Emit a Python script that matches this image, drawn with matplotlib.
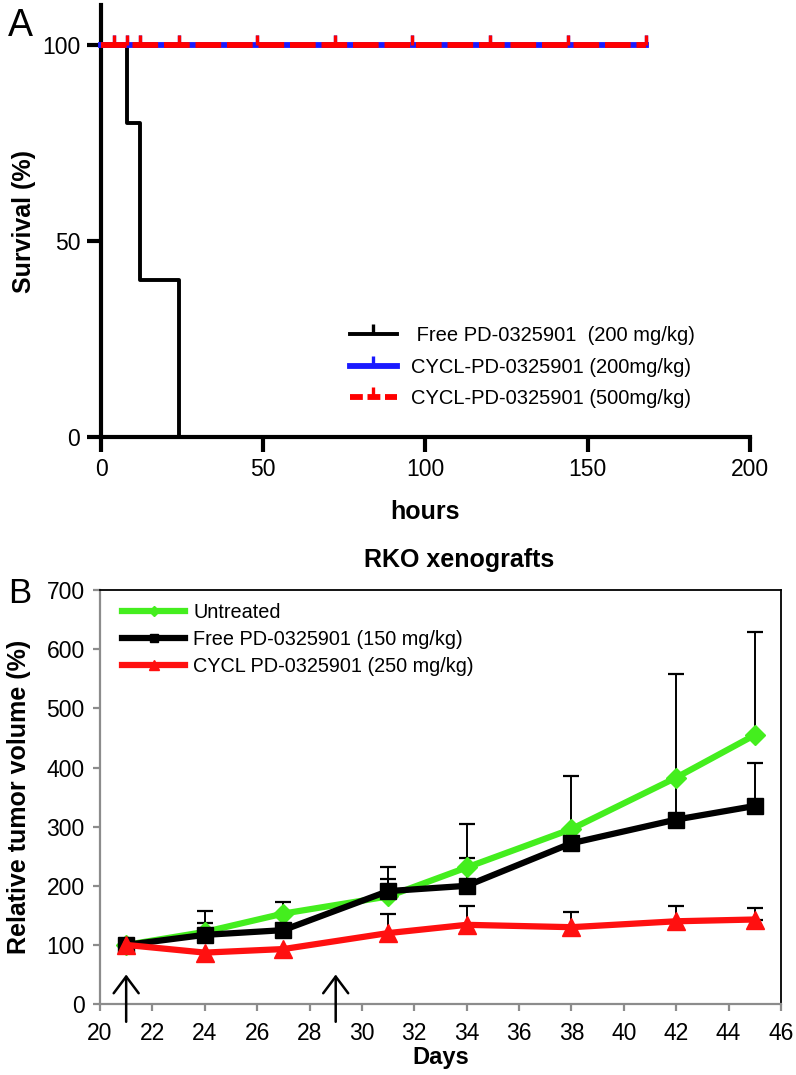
import numpy as np
import matplotlib
matplotlib.use('Agg')
import matplotlib.pyplot as plt
from matplotlib.path import Path
from matplotlib.lines import Line2D

plt.rcParams['font.family'] = ['Liberation Sans', 'DejaVu Sans']

# panel A: survival (%) vs hours
free_t = [0, 8, 12, 24]
free_s = [100, 80, 40, 0]
cycl_t = [0, 168]
cycl_s = [100, 100]
censor_t = [4, 8, 12, 24, 48, 72, 96, 120, 144, 168]
surv_labels = [' Free PD-0325901  (200 mg/kg)',
               'CYCL-PD-0325901 (200mg/kg)',
               'CYCL-PD-0325901 (500mg/kg)']

# panel B: RKO xenografts, relative tumor volume (%)
nan = np.nan
days = [21, 24, 27, 31, 34, 38, 42, 45]
untreated = [100, 122, 153, 182, 231, 296, 383, 455]
untreated_top = [nan, 158, 172, 231, 304, 385, 558, 630]
free = [100, 117, 125, 191, 200, 272, 312, 335]
free_top = [nan, 137, nan, 211, 247, nan, 380, 407]
cycl = [100, 87, 93, 120, 134, 130, 140, 143]
cycl_top = [nan, nan, nan, 152, 166, 156, 166, 162]
treat_days = [21, 29]
tumor_labels = ['Untreated', 'Free PD-0325901 (150 mg/kg)', 'CYCL PD-0325901 (250 mg/kg)']

# upward censor tick
tick = Path([(0, 0), (0, 1)], [Path.MOVETO, Path.LINETO])

fig = plt.figure(figsize=(7.96, 10.75), dpi=100)

# ---------------- A ----------------
ax = fig.add_axes([0.127, 0.5935, 0.815, 0.4015])
ax.step(free_t, free_s, where='post', color='black', lw=2.8, clip_on=False, zorder=3)
ax.plot(cycl_t, cycl_s, color='#1a1aff', lw=4.2, clip_on=False, zorder=4)
ax.plot(censor_t, [100] * len(censor_t), ls='none', marker=tick, ms=15,
        mec='#1a1aff', mew=2.4, clip_on=False, zorder=4)
ax.plot(cycl_t, cycl_s, color='#ff0000', lw=4.2, dashes=(4.4, 1.0),
        clip_on=False, zorder=5)
ax.plot(censor_t, [100] * len(censor_t), ls='none', marker=tick, ms=15,
        mec='#ff0000', mew=2.4, clip_on=False, zorder=5)

ax.set_xlim(0, 200)
ax.set_ylim(0, 110)
ax.set_xticks([0, 50, 100, 150, 200])
ax.set_yticks([0, 50, 100])
for s in ['top', 'right']:
    ax.spines[s].set_visible(False)
for s in ['left', 'bottom']:
    ax.spines[s].set_linewidth(3)
ax.tick_params(axis='x', length=11, width=3, labelsize=16.5, pad=4)
ax.tick_params(axis='y', length=10, width=3, labelsize=16.5, pad=5)
ax.set_xlabel('hours', fontsize=18, fontweight='bold', labelpad=14)
ax.set_ylabel('Survival (%)', fontsize=18, fontweight='bold', labelpad=4)

hA = [Line2D([], [], color='black', lw=2.8, marker=tick, ms=15, mew=2.4),
      Line2D([], [], color='#1a1aff', lw=4.2, marker=tick, ms=15, mew=2.4),
      Line2D([], [], color='#ff0000', lw=4.2, dashes=(2.2, 0.8), marker=tick, ms=15, mew=2.4)]
ax.legend(hA, surv_labels, loc='upper left', bbox_to_anchor=(0.384, 0.257),
          frameon=False, fontsize=14.5, handlelength=2.3, handletextpad=0.7,
          labelspacing=0.62, borderpad=0, borderaxespad=0)
fig.text(0.01, 0.993, 'A', fontsize=27, va='top', ha='left')

# ---------------- B ----------------
bx = fig.add_axes([0.1256, 0.066, 0.8555, 0.385])
green = '#44ee1e'
red = '#ff1010'

for y, top in [(untreated, untreated_top), (free, free_top), (cycl, cycl_top)]:
    y = np.array(y, float)
    top = np.array(top, float)
    ok = ~np.isnan(top)
    d = np.array(days)[ok]
    err = [np.zeros(ok.sum()), top[ok] - y[ok]]
    bx.errorbar(d, y[ok], yerr=err, fmt='none', ecolor='black', elinewidth=1.4,
                capsize=6, capthick=1.6, zorder=2)

bx.plot(days, untreated, color=green, lw=4.5, marker='D', ms=10, label=tumor_labels[0], zorder=3)
bx.plot(days, free, color='black', lw=4.5, marker='s', ms=11, label=tumor_labels[1], zorder=4)
bx.plot(days, cycl, color=red, lw=4.5, marker='^', ms=13, label=tumor_labels[2], zorder=5)

for d in treat_days:
    bx.annotate('', xy=(d, 50), xytext=(d, -30),
                arrowprops=dict(arrowstyle='->,head_length=0.6,head_width=0.45',
                                lw=1.8, color='black', mutation_scale=20,
                                shrinkA=0, shrinkB=0),
                annotation_clip=False, zorder=6)

bx.set_xlim(20, 46)
bx.set_ylim(0, 700)
bx.set_xticks(range(20, 47, 2))
bx.set_yticks(range(0, 701, 100))
for s in ['left', 'bottom']:
    bx.spines[s].set_color('#8c8c8c')
    bx.spines[s].set_linewidth(1.6)
for s in ['top', 'right']:
    bx.spines[s].set_color('black')
    bx.spines[s].set_linewidth(1.3)
bx.tick_params(axis='both', color='#8c8c8c', length=5, width=1.6, labelsize=16.5)
bx.tick_params(axis='x', pad=8)
bx.tick_params(axis='y', pad=6)
bx.set_xlabel('Days', fontsize=17, fontweight='bold', labelpad=1)
bx.set_ylabel('Relative tumor volume (%)', fontsize=18, fontweight='bold', labelpad=11)
bx.set_title('RKO xenografts', fontsize=18, fontweight='bold', x=0.527, pad=17)
bx.legend(loc='upper left', bbox_to_anchor=(0.032, 0.97), frameon=False,
          fontsize=14.3, handlelength=3.2, handletextpad=0.4, labelspacing=0.42,
          markerscale=0.55, borderpad=0, borderaxespad=0)
fig.text(0.01, 0.4635, 'B', fontsize=25, va='top', ha='left')

fig.savefig('out.png', dpi=100)
